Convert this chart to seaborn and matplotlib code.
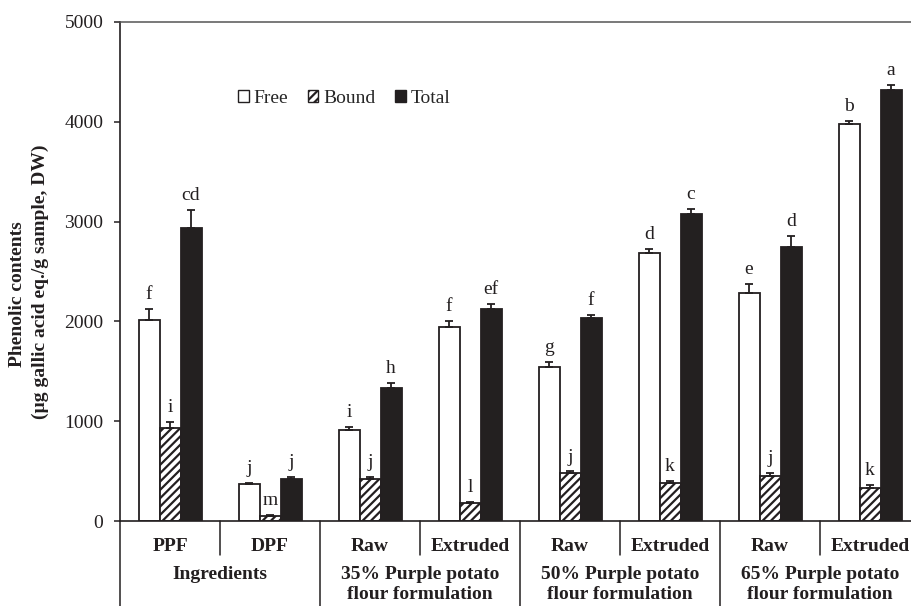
import numpy as np
import pandas as pd
import matplotlib
matplotlib.use("Agg")
import matplotlib.pyplot as plt
import seaborn as sns
from matplotlib.patches import Patch
import matplotlib.transforms as mtransforms

# ---------------- data ----------------
sample_ids = ["PPF", "DPF", "35 Raw", "35 Extruded", "50 Raw", "50 Extruded", "65 Raw", "65 Extruded"]
tick_labels = ["PPF", "DPF", "Raw", "Extruded", "Raw", "Extruded", "Raw", "Extruded"]
group_labels = ["Ingredients", "35% Purple potato\nflour formulation",
                "50% Purple potato\nflour formulation", "65% Purple potato\nflour formulation"]
fractions = ["Free", "Bound", "Total"]

free = [2010, 368, 915, 1940, 1548, 2690, 2288, 3978]
free_err = [113, 16, 28, 63, 50, 37, 90, 33]
bound = [928, 52, 418, 177, 478, 377, 454, 331]
bound_err = [67, 6, 25, 13, 20, 27, 27, 33]
total = [2939, 421, 1334, 2121, 2034, 3073, 2745, 4315]
total_err = [177, 20, 53, 57, 30, 57, 114, 54]

free_letters = ["f", "j", "i", "f", "g", "d", "e", "b"]
bound_letters = ["i", "m", "j", "l", "j", "k", "j", "k"]
total_letters = ["cd", "j", "h", "ef", "f", "c", "d", "a"]

y_ticks = [0, 1000, 2000, 3000, 4000, 5000]
y_label_1 = "Phenolic contents"
y_label_2 = "(\u00b5g gallic acid eq./g sample, DW)"

# ---------------- style ----------------
sns.set_style("white")
plt.rcParams["font.family"] = ["Liberation Serif", "DejaVu Serif"]
plt.rcParams["hatch.linewidth"] = 1.6
plt.rcParams["hatch.color"] = "black"

INK = "#231f20"
FS = 14

df = pd.DataFrame({
    "sample": sample_ids * 3,
    "fraction": [f for f in fractions for _ in sample_ids],
    "value": free + bound + total,
})

fig = plt.figure(figsize=(9.11, 6.06), dpi=100)
W, H = 911, 606
ax = fig.add_axes([120 / W, (H - 521) / H, 800 / W, 499 / H])

sns.barplot(data=df, x="sample", y="value", hue="fraction", order=sample_ids,
            hue_order=fractions,
            palette={"Free": "white", "Bound": "white", "Total": INK},
            width=0.63, gap=0, errorbar=None, edgecolor=INK, linewidth=1.3,
            legend=False, ax=ax, zorder=2)

bar_containers = list(ax.containers)
errs = [free_err, bound_err, total_err]
letters = [free_letters, bound_letters, total_letters]
for ci, cont in enumerate(bar_containers):
    xs, ys = [], []
    for bar in cont.patches:
        xs.append(bar.get_x() + bar.get_width() / 2)
        ys.append(bar.get_height())
        if ci == 1:
            bar.set_hatch("////")
            bar.set_facecolor("white")
            bar.set_edgecolor(INK)
    xs = np.array(xs)
    ys = np.array(ys)
    e = np.array(errs[ci])
    ax.errorbar(xs, ys, yerr=[np.zeros_like(e), e], fmt="none", ecolor=INK,
                elinewidth=1.3, capsize=2.6, capthick=1.3, zorder=3)
    for x, y, ee, lab in zip(xs, ys, e, letters[ci]):
        ax.annotate(lab, (x, y + ee), xytext=(0, 7), textcoords="offset points",
                    ha="center", va="baseline", fontsize=FS, color=INK)

# axes
ax.set_ylim(0, 5000)
ax.set_xlim(-0.5, 7.5)
ax.set_yticks(y_ticks)
ax.set_yticklabels([str(t) for t in y_ticks], fontsize=FS, color=INK)
ax.tick_params(axis="y", direction="out", length=4, width=1.1, pad=8, left=True, colors=INK)
ax.set_xticks(range(len(sample_ids)))
ax.set_xticklabels(tick_labels, fontsize=FS, fontweight="bold", color=INK)
ax.tick_params(axis="x", length=0, pad=12)
ax.set_xlabel("")
ax.set_ylabel("")
for side in ["left", "bottom"]:
    ax.spines[side].set_color(INK)
    ax.spines[side].set_linewidth(1.2)
ax.spines["top"].set_color("#555555")
ax.spines["top"].set_linewidth(1.1)
ax.spines["right"].set_visible(False)

# separators below axis
trans = mtransforms.blended_transform_factory(ax.transData, ax.transAxes)
for i in range(8):
    xb = i - 0.5
    if i % 2 == 0:
        ax.plot([xb, xb], [0, -0.25], transform=trans, color=INK, lw=1.1, clip_on=False)
    else:
        ax.plot([xb, xb], [0, -0.068], transform=trans, color=INK, lw=1.1, clip_on=False)

for gi, gl in enumerate(group_labels):
    ax.text(2 * gi + 0.5, -0.0902, gl, transform=trans, ha="center", va="top",
            fontsize=FS, fontweight="bold", color=INK, linespacing=1.2)

# legend
handles = [Patch(facecolor="white", edgecolor=INK, linewidth=1.0, label="Free"),
           Patch(facecolor="white", edgecolor=INK, linewidth=1.0, hatch="////", label="Bound"),
           Patch(facecolor=INK, edgecolor=INK, linewidth=1.0, label="Total")]
ax.legend(handles=handles, loc="center left", bbox_to_anchor=(0.1475, 0.847),
          ncol=3, frameon=False, fontsize=FS, handlelength=0.55, handleheight=0.55,
          handletextpad=0.25, columnspacing=1.0, borderpad=0, borderaxespad=0)

# y label (two lines)
fig.text(18 / W, 1 - 294 / H, y_label_1, rotation=90, ha="center", va="center",
         fontsize=FS, fontweight="bold", color=INK)
fig.text(40 / W, 1 - 282 / H, y_label_2, rotation=90, ha="center", va="center",
         fontsize=FS, fontweight="bold", color=INK)

fig.savefig("out.png", dpi=100)
